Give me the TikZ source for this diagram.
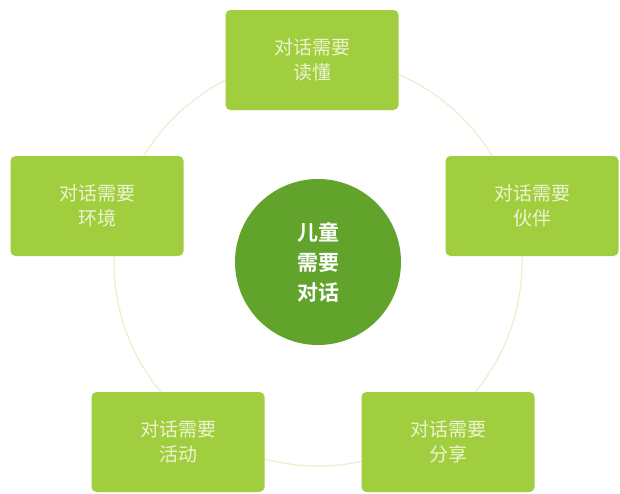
\documentclass[tikz,border=0pt]{standalone}
\usepackage{fontspec}
\newfontfamily\cjk{Noto Sans CJK SC}
\newfontfamily\cjkb{Noto Sans CJK SC Bold}
\definecolor{boxgreen}{RGB}{160,206,62}
\definecolor{centergreen}{RGB}{98,163,44}
\definecolor{ringcol}{RGB}{232,240,205}
\definecolor{boxtext}{RGB}{236,244,210}
\begin{document}
\begin{tikzpicture}[x=1pt,y=-1pt,
  itembox/.style={fill=boxgreen,rounded corners=5pt,minimum width=173pt,minimum height=100pt,
    text=boxtext,align=center,font=\cjk\fontsize{19}{25}\selectfont,inner sep=0pt},
  hub/.style={circle,fill=centergreen,minimum size=166pt,text=white,align=center,
    font=\cjkb\fontsize{21}{30}\selectfont,inner sep=0pt}]
\useasboundingbox (0,0) rectangle (620,493);
\fill[white] (0,0) rectangle (620,493);
\coordinate (c) at (318,262);
\draw[ringcol,line width=1.2pt] (c) circle (204);
\node[hub] (hubn) at (c) {儿童\\需要\\对话};
\node[itembox] (top) at (312,60) {对话需要\\读懂};
\node[itembox] (left) at (97,206) {对话需要\\环境};
\node[itembox] (right) at (532,206) {对话需要\\伙伴};
\node[itembox] (bl) at (178,442) {对话需要\\活动};
\node[itembox] (br) at (448,442) {对话需要\\分享};
\end{tikzpicture}
\end{document}
